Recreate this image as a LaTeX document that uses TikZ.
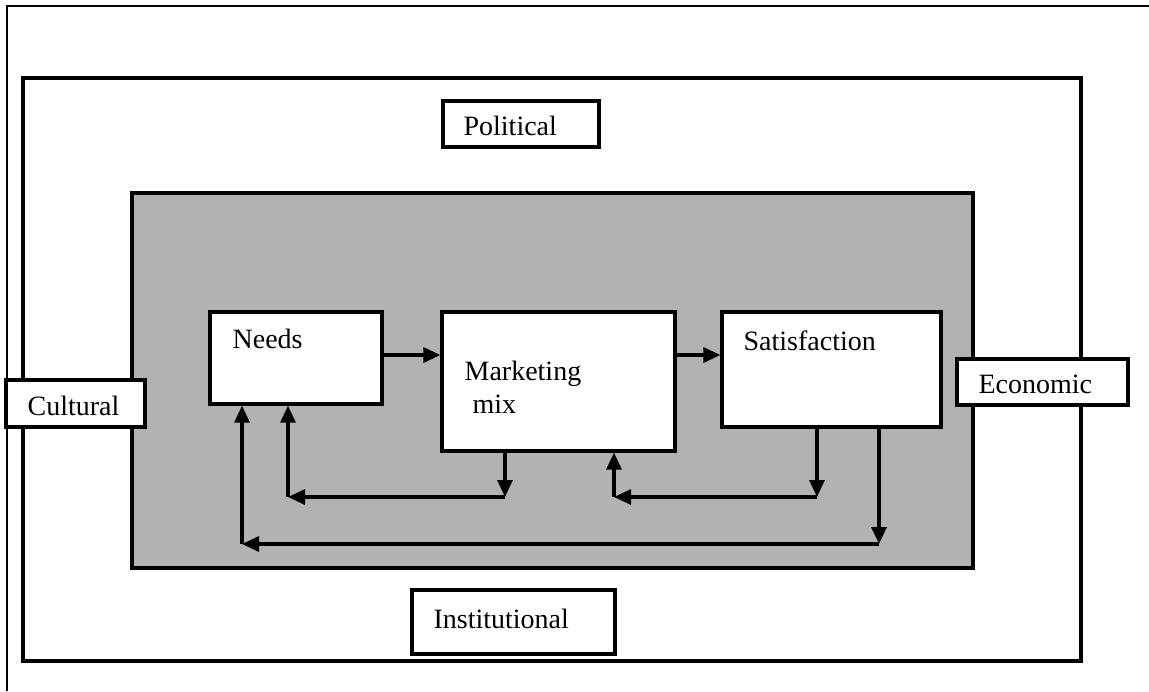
\documentclass[tikz,border=0pt]{standalone}
\usepackage{fontspec}
\setmainfont{Liberation Serif}
\usetikzlibrary{arrows.meta}

\begin{document}
\begin{tikzpicture}[x=0.5pt, y=-0.5pt, >={Triangle[length=8.5pt, width=7.5pt]}, line width=1.6pt,
    box/.style={draw, fill=white, line width=1.6pt, inner sep=0pt},
    lbl/.style={anchor=base west, inner sep=0pt, font=\fontsize{14}{17}\selectfont}]

    \useasboundingbox (0,0) rectangle (1149,691);

    % Outer frame (cut off at the page edge)
    \draw[line width=1.1pt] (7,691) -- (7,6) -- (1149,6);

    % Environment and market area
    \draw (23,78) rectangle (1081,661);
    \draw[fill=black!30] (132,193) rectangle (973,568);

    % Environmental forces
    \node[box, minimum width=78pt, minimum height=23pt] (political) at (521,124) {};
    \node[box, minimum width=69.5pt, minimum height=23.5pt] (cultural) at (75.5,403.5) {};
    \node[box, minimum width=85.5pt, minimum height=23pt] (economic) at (1042.5,382) {};
    \node[box, minimum width=101.5pt, minimum height=32pt] (institutional) at (513.5,622) {};
    \node[lbl] (political-t) at (462,135) {Political};
    \node[lbl] (cultural-t) at (26,415) {Cultural};
    \node[lbl] (economic-t) at (977,393) {Economic};
    \node[lbl] (institutional-t) at (432,628) {Institutional};

    % Marketing process
    \node[box, minimum width=86pt, minimum height=46pt] (needs) at (296,358) {};
    \node[box, minimum width=116.5pt, minimum height=69.5pt] (mix) at (558.5,381.5) {};
    \node[box, minimum width=109.5pt, minimum height=57.5pt] (sat) at (831.5,369.5) {};
    \node[lbl] (needs-t) at (231,348) {Needs};
    \node[lbl] (mix-t) at (463,380) {Marketing};
    \node[lbl] (mix-t2) at (471,413) {mix};
    \node[lbl] (sat-t) at (742,350) {Satisfaction};

    \coordinate (top) at (0,355);
    \draw[->] (needs.east |- top) -- (mix.west |- top);
    \draw[->] (mix.east |- top) -- (sat.west |- top);

    % Feedback loops
    \foreach \from/\to/\x/\y/\xx in {mix/needs/505/497/288, sat/mix/817/497/614, sat/needs/879/544/242} {
        \coordinate (down) at (\x,\y);
        \coordinate (back) at (\xx,\y);
        \draw[->] (\from.south -| down) -- (down);
        \draw[->] (down) -- (back);
        \draw[->] (back) -- (\to.south -| back);
    }

\end{tikzpicture}
\end{document}
